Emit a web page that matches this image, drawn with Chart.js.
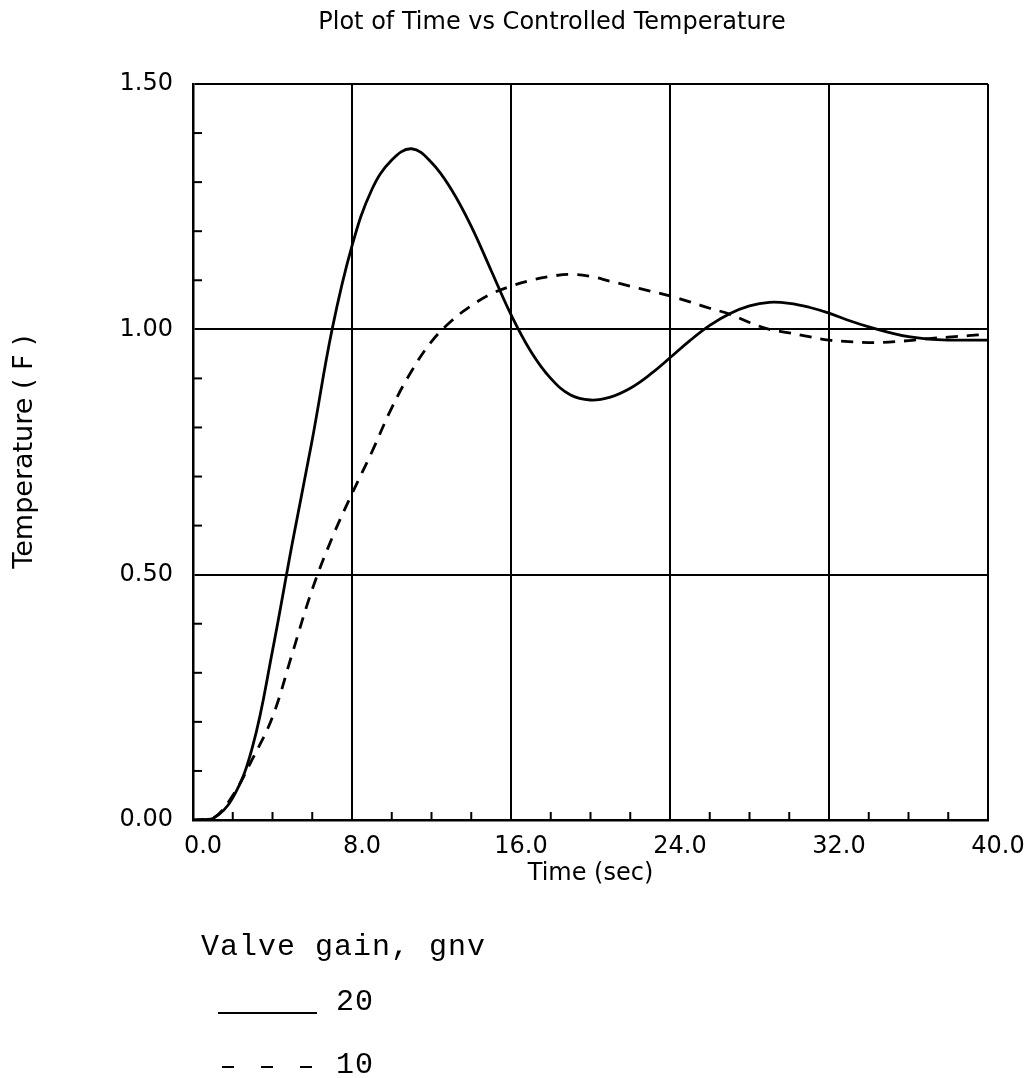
<!DOCTYPE html>
<html>
<head>
<meta charset="utf-8">
<title>Plot of Time vs Controlled Temperature</title>
<script src="https://cdn.jsdelivr.net/npm/chart.js@4.4.1/dist/chart.umd.min.js"></script>
<style>
    html, body { margin: 0; padding: 0; background: #fff; }
</style>
</head>
<body>
<canvas id="tempChart" width="1032" height="1078"></canvas>
<script>
// time axis, seconds
const times = [0, 1, 2, 3, 4, 5, 6, 7, 8, 9, 10, 11, 12, 13, 14, 15, 16, 17, 18, 19, 20,
    21, 22, 23, 24, 25, 26, 27, 28, 29, 30, 31, 32, 33, 34, 35, 36, 37, 38, 39, 40];

// valve gain gnv = 20 (solid)
const gain20 = [0, 0.003, 0.045, 0.15, 0.345, 0.565, 0.775, 1.0, 1.17, 1.285, 1.345,
    1.368, 1.34, 1.285, 1.21, 1.12, 1.03, 0.955, 0.9, 0.866, 0.856,
    0.862, 0.88, 0.908, 0.942, 0.977, 1.008, 1.032, 1.048, 1.055, 1.053,
    1.045, 1.033, 1.018, 1.005, 0.994, 0.985, 0.98, 0.978, 0.978, 0.978];

// valve gain gnv = 10 (dashed)
const gain10 = [0, 0.003, 0.05, 0.125, 0.21, 0.34, 0.47, 0.575, 0.665, 0.75, 0.84,
    0.915, 0.975, 1.017, 1.048, 1.072, 1.088, 1.1, 1.108, 1.112, 1.108,
    1.098, 1.088, 1.078, 1.068, 1.056, 1.043, 1.031, 1.014, 1.0, 0.993,
    0.985, 0.978, 0.975, 0.973, 0.974, 0.977, 0.981, 0.984, 0.987, 0.99];

const seriesLabels = ['20', '10'];
const xMajorStep = 8;
const yMajorStep = 0.5;
const chartTitle = 'Plot of Time vs Controlled Temperature';
const legendTitle = 'Valve gain, gnv';

const sansFont = 'DejaVu Sans';
const monoFont = 'Liberation Mono';

function isMajor(value, step) {
    const r = value / step;
    return Math.abs(r - Math.round(r)) < 1e-6;
}

// short inward ticks between the labelled ones
const minorTicks = {
    id: 'minorTicks',
    afterDraw(chart) {
        const ctx = chart.ctx;
        const xs = chart.scales.x;
        const ys = chart.scales.y;
        ctx.save();
        ctx.strokeStyle = '#000';
        ctx.lineWidth = 2;
        xs.ticks.forEach(t => {
            if (isMajor(t.value, xMajorStep)) return;
            const px = xs.getPixelForValue(t.value);
            ctx.beginPath();
            ctx.moveTo(px, xs.top);
            ctx.lineTo(px, xs.top - 8);
            ctx.stroke();
        });
        ys.ticks.forEach(t => {
            if (isMajor(t.value, yMajorStep)) return;
            const py = ys.getPixelForValue(t.value);
            ctx.beginPath();
            ctx.moveTo(ys.right, py);
            ctx.lineTo(ys.right + 9, py);
            ctx.stroke();
        });
        ctx.restore();
    }
};

// title on top and the typed legend under the x axis
const annotations = {
    id: 'annotations',
    afterDraw(chart) {
        const ctx = chart.ctx;
        ctx.save();
        ctx.fillStyle = '#000';
        ctx.font = `24px "${sansFont}"`;
        ctx.textAlign = 'center';
        ctx.textBaseline = 'middle';
        ctx.fillText(chartTitle, 552, 23);

        ctx.font = `30px "${monoFont}"`;
        ctx.letterSpacing = '1px';
        ctx.textAlign = 'left';
        ctx.textBaseline = 'alphabetic';
        ctx.fillText(legendTitle, 201, 955);

        const rows = [1010, 1073];
        chart.data.datasets.forEach((ds, i) => {
            const y = rows[i];
            ctx.strokeStyle = ds.borderColor;
            ctx.lineWidth = 2;
            ctx.setLineDash(i === 0 ? [] : [12, 27]);
            ctx.beginPath();
            ctx.moveTo(i === 0 ? 218 : 222, i === 0 ? y + 3 : y - 6);
            ctx.lineTo(i === 0 ? 317 : 312, i === 0 ? y + 3 : y - 6);
            ctx.stroke();
            ctx.setLineDash([]);
            ctx.fillText(ds.label, 336, y);
        });
        ctx.restore();
    }
};

const ctx = document.getElementById('tempChart').getContext('2d');
const tempChart = new Chart(ctx, {
    type: 'line',
    data: {
        labels: times,
        datasets: [{
            label: seriesLabels[0],
            data: gain20,
            borderColor: '#000',
            borderWidth: 2.8,
            pointRadius: 0,
            tension: 0.4
        }, {
            label: seriesLabels[1],
            data: gain10,
            borderColor: '#000',
            borderWidth: 2.8,
            borderDash: [12, 9],
            pointRadius: 0,
            tension: 0.4
        }]
    },
    options: {
        responsive: false,
        animation: false,
        devicePixelRatio: 1,
        layout: {
            padding: { top: 84, right: 44, left: 0, bottom: 0 }
        },
        plugins: {
            legend: { display: false },
            title: { display: false },
            tooltip: { enabled: false }
        },
        scales: {
            x: {
                type: 'linear',
                min: 0,
                max: 40,
                afterFit: scale => { scale.height = 258; },
                ticks: {
                    stepSize: 2,
                    autoSkip: false,
                    maxRotation: 0,
                    labelOffset: 10,
                    padding: 12,
                    color: '#000',
                    font: { family: sansFont, size: 24 },
                    callback: v => isMajor(v, xMajorStep) ? v.toFixed(1) : ''
                },
                grid: {
                    drawTicks: false,
                    lineWidth: 2,
                    color: c => isMajor(c.tick.value, xMajorStep) ? '#000' : 'rgba(0,0,0,0)'
                },
                border: { color: '#000', width: 2.5 },
                title: {
                    display: true,
                    text: 'Time (sec)',
                    color: '#000',
                    font: { family: sansFont, size: 24 },
                    padding: { top: 0, bottom: 190 }
                }
            },
            y: {
                min: 0,
                max: 1.5,
                afterFit: scale => { scale.width = 193; },
                ticks: {
                    stepSize: 0.1,
                    autoSkip: false,
                    padding: 20,
                    color: '#000',
                    font: { family: sansFont, size: 24 },
                    callback: v => isMajor(v, yMajorStep) ? v.toFixed(2) : ''
                },
                grid: {
                    drawTicks: false,
                    lineWidth: 2,
                    color: c => isMajor(c.tick.value, yMajorStep) ? '#000' : 'rgba(0,0,0,0)'
                },
                border: { color: '#000', width: 2.5 },
                title: {
                    display: true,
                    text: 'Temperature ( F )',
                    color: '#000',
                    font: { family: sansFont, size: 27 },
                    padding: { top: 9, bottom: 0 }
                }
            }
        }
    },
    plugins: [minorTicks, annotations]
});
</script>
</body>
</html>
